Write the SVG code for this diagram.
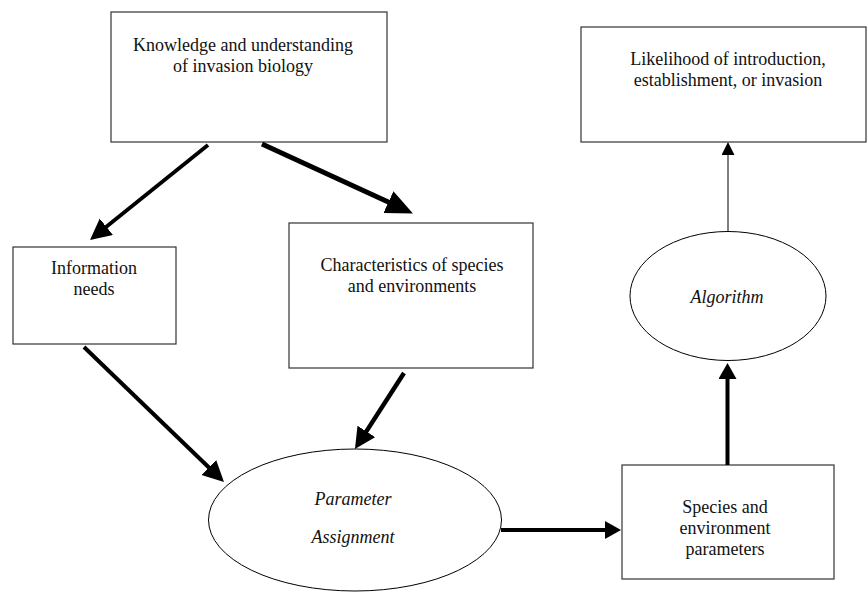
<svg xmlns="http://www.w3.org/2000/svg" width="867" height="592" viewBox="0 0 867 592">
<style>
  .box { fill: #ffffff; stroke: #333333; stroke-width: 1.2; }
  .ell { fill: #ffffff; stroke: #000000; stroke-width: 1; }
  text { font-family: 'Liberation Serif', 'Times New Roman', Times, 'DejaVu Serif', serif; font-size: 18px; fill: #111111; text-anchor: middle; }
  .i { font-style: italic; }
  .thick { stroke: #000000; fill: none; }
</style>
<defs>
  <marker id="big" markerUnits="userSpaceOnUse" markerWidth="28" markerHeight="26" refX="10" refY="12" orient="auto">
    <path d="M0,0 L27,12 L0,24 Z" fill="#000"/>
  </marker>
  <marker id="head" markerUnits="userSpaceOnUse" markerWidth="22" markerHeight="22" refX="8" refY="10.5" orient="auto">
    <path d="M0,0 L21,10.5 L0,21 Z" fill="#000"/>
  </marker>
  <marker id="med" markerUnits="userSpaceOnUse" markerWidth="18" markerHeight="20" refX="6" refY="9" orient="auto">
    <path d="M0,0 L16,9 L0,18 Z" fill="#000"/>
  </marker>
  <marker id="small" markerUnits="userSpaceOnUse" markerWidth="14" markerHeight="14" refX="5" refY="6.5" orient="auto">
    <path d="M0,0 L13,6.5 L0,13 Z" fill="#000"/>
  </marker>
</defs>

<g id="knowledge">
  <rect class="box" x="111" y="12" width="276" height="130"/>
  <text x="243" y="50.5" font-family="Liberation Serif, serif">Knowledge and understanding</text>
  <text x="243" y="71.5" font-family="Liberation Serif, serif">of invasion biology</text>
</g>

<g id="information">
  <rect class="box" x="13" y="247" width="163" height="97"/>
  <text x="94" y="274" font-family="Liberation Serif, serif">Information</text>
  <text x="94" y="295" font-family="Liberation Serif, serif">needs</text>
</g>

<g id="characteristics">
  <rect class="box" x="289" y="223" width="244" height="145"/>
  <text x="412" y="271" font-family="Liberation Serif, serif">Characteristics of species</text>
  <text x="412" y="292" font-family="Liberation Serif, serif">and environments</text>
</g>

<g id="likelihood">
  <rect class="box" x="581" y="27" width="285" height="115"/>
  <text x="728" y="65" font-family="Liberation Serif, serif">Likelihood of introduction,</text>
  <text x="728" y="86" font-family="Liberation Serif, serif">establishment, or invasion</text>
</g>

<g id="algorithm">
  <ellipse class="ell" cx="728" cy="296" rx="98" ry="64.5"/>
  <text class="i" x="727" y="303" font-family="Liberation Serif, serif">Algorithm</text>
</g>

<g id="parameter">
  <ellipse class="ell" cx="355" cy="520" rx="146.5" ry="71"/>
  <text class="i" x="353" y="505" font-family="Liberation Serif, serif">Parameter</text>
  <text class="i" x="353" y="543" font-family="Liberation Serif, serif">Assignment</text>
</g>

<g id="species">
  <rect class="box" x="622" y="465" width="212" height="114"/>
  <text x="725" y="513" font-family="Liberation Serif, serif">Species and</text>
  <text x="725" y="534" font-family="Liberation Serif, serif">environment</text>
  <text x="725" y="555" font-family="Liberation Serif, serif">parameters</text>
</g>

<g id="connectors">
  <line class="thick" x1="208" y1="145" x2="100.1" y2="231.8" stroke-width="3.8" marker-end="url(#head)"/>
  <line class="thick" x1="262" y1="144" x2="397.5" y2="206.3" stroke-width="5" marker-end="url(#big)"/>
  <line class="thick" x1="84" y1="347" x2="214.6" y2="473" stroke-width="4" marker-end="url(#head)"/>
  <line class="thick" x1="404" y1="373" x2="362" y2="438.1" stroke-width="4.5" marker-end="url(#head)"/>
  <line class="thick" x1="501" y1="530" x2="611" y2="530" stroke-width="4" marker-end="url(#med)"/>
  <line class="thick" x1="727.5" y1="465" x2="727.5" y2="373" stroke-width="4" marker-end="url(#med)"/>
  <line class="thick" x1="728" y1="232" x2="728" y2="150" stroke-width="1" marker-end="url(#small)"/>
</g>
</svg>
